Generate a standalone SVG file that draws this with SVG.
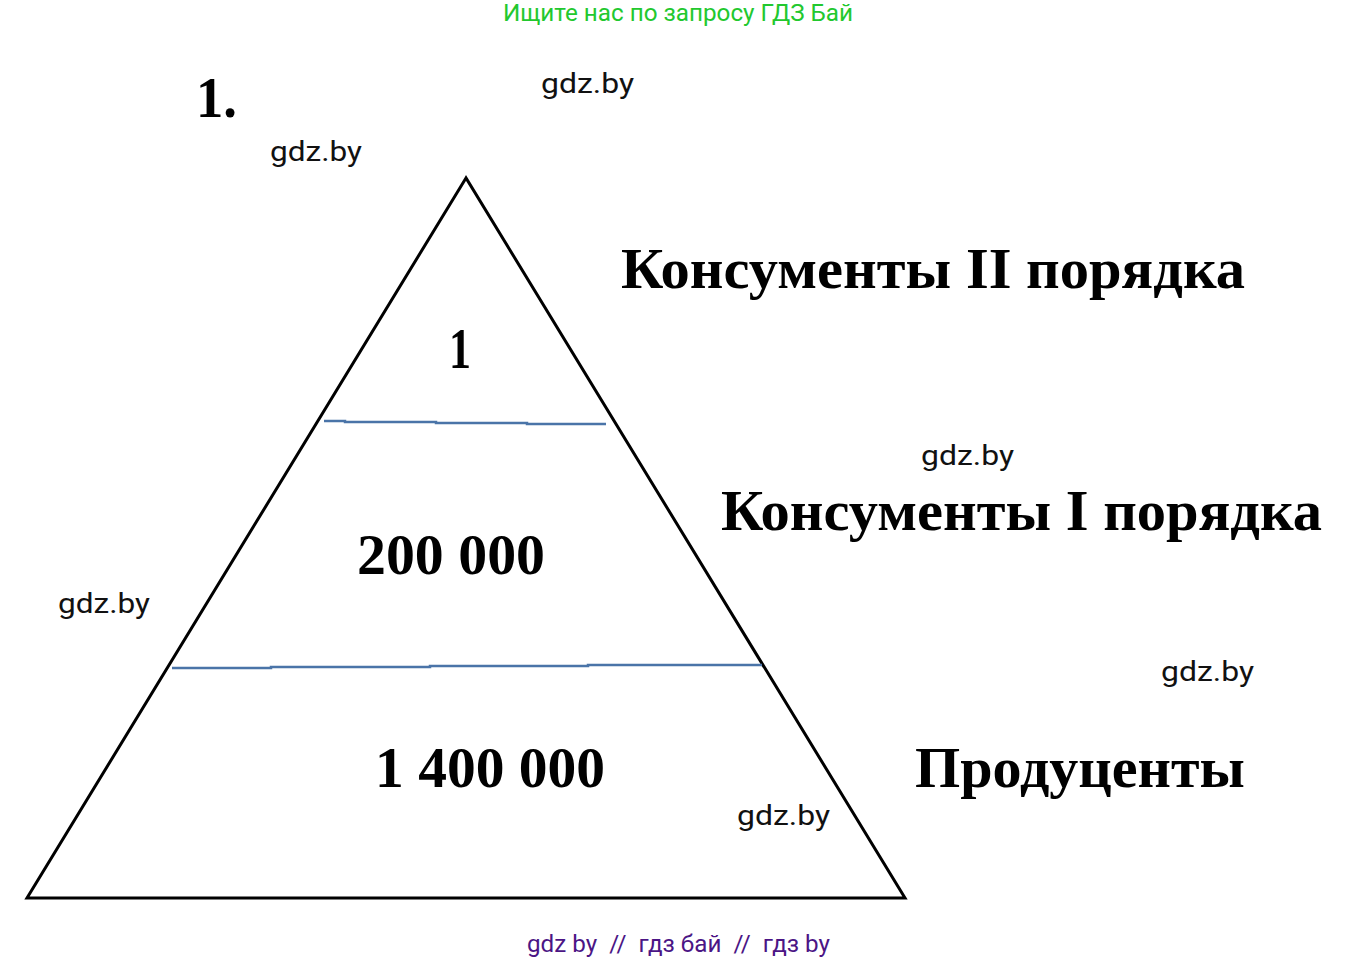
<svg xmlns="http://www.w3.org/2000/svg" width="1359" height="962" viewBox="0 0 1359 962">
<style>
.wm{font-family:Roboto,"Liberation Sans",sans-serif;font-size:28px;fill:#111}
.big{font-family:"Liberation Serif",serif;font-weight:bold;font-size:58px;fill:#000}
.lvl{fill:none;stroke:#4a74a8;stroke-width:2.5}
</style>
<rect width="1359" height="962" fill="#fff"/>
<text x="503" y="21" font-family="Roboto,'Liberation Sans',sans-serif" font-size="24" fill="#22c82e" textLength="350" lengthAdjust="spacingAndGlyphs">Ищите нас по запросу ГДЗ Бай</text>
<text x="196" y="117" class="big" font-size="56" textLength="41" lengthAdjust="spacingAndGlyphs">1.</text>
<g id="watermarks">
<text x="541" y="93" class="wm" textLength="93" lengthAdjust="spacingAndGlyphs">gdz.by</text>
<text x="270" y="161" class="wm" textLength="92" lengthAdjust="spacingAndGlyphs">gdz.by</text>
<text x="921" y="465" class="wm" textLength="93" lengthAdjust="spacingAndGlyphs">gdz.by</text>
<text x="58" y="613" class="wm" textLength="92" lengthAdjust="spacingAndGlyphs">gdz.by</text>
<text x="1161" y="681" class="wm" textLength="93" lengthAdjust="spacingAndGlyphs">gdz.by</text>
<text x="737" y="825" class="wm" textLength="93" lengthAdjust="spacingAndGlyphs">gdz.by</text>
</g>
<g id="pyramid">
<polygon points="466,178 27,898 905,898" fill="none" stroke="#000" stroke-width="3" stroke-linejoin="miter"/>
</g>
<g id="connectors">
<polyline class="lvl" points="324,421 345,421 345,422 436,422 436,423 527,423 527,424 606,424"/>
<polyline class="lvl" points="172,668 271,668 271,667 430,667 430,666 588,666 588,665 762,665"/>
</g>
<g id="level-top">
<text x="449" y="368" class="big" font-size="56" textLength="22" lengthAdjust="spacingAndGlyphs">1</text>
<text x="621" y="288" class="big" font-size="58" textLength="624" lengthAdjust="spacingAndGlyphs">Консументы II порядка</text>
</g>
<g id="level-middle">
<text x="357" y="574" class="big" textLength="188" lengthAdjust="spacingAndGlyphs">200 000</text>
<text x="721" y="530" class="big" textLength="601" lengthAdjust="spacingAndGlyphs">Консументы I порядка</text>
</g>
<g id="level-bottom">
<text x="375" y="787" class="big" textLength="230" lengthAdjust="spacingAndGlyphs">1 400 000</text>
<text x="915" y="787" class="big" textLength="330" lengthAdjust="spacingAndGlyphs">Продуценты</text>
</g>
<text x="527" y="952" font-family="Roboto,'Liberation Sans',sans-serif" font-size="24" fill="#4b1585" xml:space="preserve" textLength="303" lengthAdjust="spacingAndGlyphs">gdz by  //  гдз бай  //  гдз by</text>
</svg>
